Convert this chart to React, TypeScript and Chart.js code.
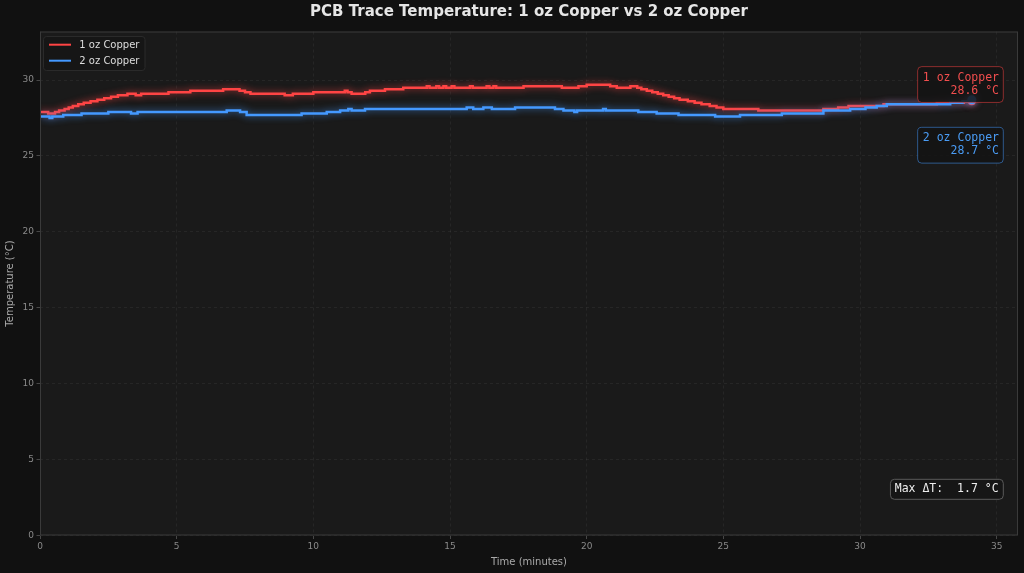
import React, { useEffect, useRef } from "react";
import { Chart, registerables } from "chart.js";

Chart.register(...registerables);

const TITLE = "PCB Trace Temperature: 1 oz Copper vs 2 oz Copper";
const X_LABEL = "Time (minutes)";
const Y_LABEL = "Temperature (°C)";
const SERIES_NAMES = ["1 oz Copper", "2 oz Copper"];
const X_TICKS = [0, 5, 10, 15, 20, 25, 30, 35];
const Y_TICKS = [0, 5, 10, 15, 20, 25, 30];
const X_MAX = 35.78;
const Y_MAX = 33.2;
const MAX_DELTA_T = 1.7;

// 1 oz copper: change points (minutes) and held temperature (°C)
const redTimes = [
  0.0, 0.3, 0.55, 0.7, 0.9, 1.05, 1.2, 1.4, 1.6, 1.85, 2.1, 2.35, 2.6, 2.85, 3.2, 3.5, 3.7,
  4.7, 5.5, 6.7, 7.3, 7.5, 7.7, 8.95, 9.25, 10.0, 11.15, 11.25, 11.4, 11.9, 12.07, 12.62,
  13.29, 14.15, 14.25, 14.5, 14.6, 14.76, 14.86, 15.06, 15.16, 15.73, 15.83, 16.34, 16.44,
  16.59, 16.69, 17.69, 19.09, 19.7, 20.0, 20.86, 21.1, 21.6, 21.85, 22.0, 22.2, 22.4, 22.6,
  22.8, 23.0, 23.2, 23.4, 23.7, 23.95, 24.2, 24.5, 24.75, 25.0, 26.28, 28.66, 29.2, 29.58,
  30.86, 32.81, 33.8, 34.09,
];
const redTemps = [
  27.9, 27.8, 27.9, 28.0, 28.1, 28.2, 28.3, 28.4, 28.5, 28.6, 28.7, 28.8, 28.9, 29.0, 29.1, 29.0, 29.1,
  29.2, 29.3, 29.4, 29.3, 29.2, 29.1, 29.0, 29.1, 29.2, 29.3, 29.2, 29.1, 29.2, 29.3, 29.4,
  29.5, 29.6, 29.5, 29.6, 29.5, 29.6, 29.5, 29.6, 29.5, 29.6, 29.5, 29.6, 29.5,
  29.6, 29.5, 29.6, 29.5, 29.6, 29.7, 29.6, 29.5, 29.6, 29.5, 29.4, 29.3, 29.2, 29.1,
  29.0, 28.9, 28.8, 28.7, 28.6, 28.5, 28.4, 28.3, 28.2, 28.1, 28.0, 28.1, 28.2, 28.3,
  28.4, 28.5, 28.6, 28.6,
];

// 2 oz copper: change points (minutes) and held temperature (°C)
const blueTimes = [
  0.0, 0.35, 0.45, 0.85, 1.52, 2.5, 3.33, 3.57, 6.83, 7.32, 7.56, 9.57, 10.49, 10.98, 11.28,
  11.4, 11.89, 15.61, 15.85, 16.22, 16.53, 17.38, 18.84, 19.15, 19.55, 19.65, 20.6, 20.7,
  21.89, 22.56, 23.36, 24.7, 25.61, 27.14, 28.66, 29.64, 30.2, 30.61, 30.98, 33.3, 33.75,
  34.0, 34.09,
];
const blueTemps = [
  27.6, 27.5, 27.6, 27.7, 27.8, 27.9, 27.8, 27.9, 28.0, 27.9, 27.7, 27.8, 27.9, 28.0, 28.1,
  28.0, 28.1, 28.2, 28.1, 28.2, 28.1, 28.2, 28.1, 28.0, 27.9, 28.0, 28.1, 28.0,
  27.9, 27.8, 27.7, 27.6, 27.7, 27.8, 28.0, 28.1, 28.2, 28.3, 28.4, 28.5, 28.6,
  28.7, 28.7,
];

const RED = "#ff4444";
const BLUE = "#4499ff";
const MONO = "'DejaVu Sans Mono', monospace";
const SANS = "'DejaVu Sans', sans-serif";

function roundRect(ctx: CanvasRenderingContext2D, x: number, y: number, w: number, h: number, r: number) {
  ctx.beginPath();
  ctx.moveTo(x + r, y);
  ctx.lineTo(x + w - r, y);
  ctx.arcTo(x + w, y, x + w, y + r, r);
  ctx.lineTo(x + w, y + h - r);
  ctx.arcTo(x + w, y + h, x + w - r, y + h, r);
  ctx.lineTo(x + r, y + h);
  ctx.arcTo(x, y + h, x, y + h - r, r);
  ctx.lineTo(x, y + r);
  ctx.arcTo(x, y, x + r, y, r);
  ctx.closePath();
}

function ChartView() {
  const ref = useRef<HTMLCanvasElement>(null);

  useEffect(() => {
    const canvas = ref.current;
    if (!canvas) return;
    Chart.defaults.font.family = SANS;

    const toPts = (ts: number[], vs: number[]) => ts.map((t, i) => ({ x: t, y: vs[i] }));
    const redPts = toPts(redTimes, redTemps);
    const bluePts = toPts(blueTimes, blueTemps);

    const deco = {
      id: "deco",
      beforeDraw(chart: any) {
        const { ctx, chartArea: a, width, height } = chart;
        ctx.save();
        ctx.fillStyle = "#111111";
        ctx.fillRect(0, 0, width, height);
        ctx.fillStyle = "#1a1a1a";
        ctx.fillRect(a.left, a.top, a.right - a.left, a.bottom - a.top);
        ctx.restore();
      },
      beforeDatasetDraw(chart: any, args: any) {
        const ds = chart.data.datasets[args.index];
        const ctx = chart.ctx;
        ctx.save();
        ctx.shadowColor = ds.glowColor;
        ctx.shadowBlur = 7;
      },
      afterDatasetDraw(chart: any) {
        chart.ctx.restore();
      },
      afterDraw(chart: any) {
        const { ctx, chartArea: a } = chart;
        const xs = chart.scales.x;
        const ys = chart.scales.y;
        ctx.save();
        // title, centred over the plot area
        ctx.font = `bold 15px ${SANS}`;
        ctx.fillStyle = "#e6e6e6";
        ctx.textAlign = "center";
        ctx.textBaseline = "alphabetic";
        ctx.fillText(TITLE, (a.left + a.right) / 2, 16.3);

        // frame
        ctx.strokeStyle = "#3a3a3a";
        ctx.lineWidth = 1;
        ctx.strokeRect(a.left + 0.5, a.top + 0.5, a.right - a.left - 1, a.bottom - a.top - 1);

        // legend
        roundRect(ctx, a.left + 3.5, a.top + 5, 101.5, 34, 3);
        ctx.fillStyle = "rgba(22,22,22,0.85)";
        ctx.fill();
        ctx.strokeStyle = "#2a2a2a";
        ctx.stroke();
        const legendColors = [RED, BLUE];
        ctx.font = `10px ${SANS}`;
        ctx.textBaseline = "middle";
        ctx.textAlign = "left";
        SERIES_NAMES.forEach((name, i) => {
          const ly = a.top + 13.2 + i * 16;
          ctx.strokeStyle = legendColors[i];
          ctx.lineWidth = 2;
          ctx.beginPath();
          ctx.moveTo(a.left + 9, ly);
          ctx.lineTo(a.left + 31, ly);
          ctx.stroke();
          ctx.fillStyle = "#dddddd";
          ctx.fillText(name, a.left + 39.3, ly + 0.5);
        });

        // end-value annotations
        const lastR = redPts[redPts.length - 1];
        const lastB = bluePts[bluePts.length - 1];
        const px = xs.getPixelForValue(lastR.x);
        const yR = ys.getPixelForValue(lastR.y);
        const yB = ys.getPixelForValue(lastB.y);
        ctx.font = `11.5px ${MONO}`;
        const boxes = [
          { name: SERIES_NAMES[0], val: lastR.y, top: yR - 34.7, stroke: "rgba(255,68,68,0.5)", color: "#f24e4e" },
          { name: SERIES_NAMES[1], val: lastB.y, top: yB + 27.5, stroke: "rgba(68,153,255,0.5)", color: "#4a9cf5" },
        ];
        boxes.forEach((b) => {
          const right = px + 31.5;
          const l1 = b.name;
          const l2 = `${b.val.toFixed(1)} °C`;
          const w = Math.max(ctx.measureText(l1).width, ctx.measureText(l2).width) + 9.5;
          roundRect(ctx, right - w, b.top, w, 35.8, 4);
          ctx.fillStyle = "rgba(20,20,20,0.85)";
          ctx.fill();
          ctx.strokeStyle = b.stroke;
          ctx.lineWidth = 1;
          ctx.stroke();
          ctx.fillStyle = b.color;
          ctx.textAlign = "right";
          ctx.textBaseline = "middle";
          ctx.fillText(l1, right - 4.3, b.top + 11);
          ctx.fillText(l2, right - 4.3, b.top + 24);
        });

        // max delta box
        const dt = `Max ΔT:  ${MAX_DELTA_T.toFixed(1)} °C`;
        ctx.font = `11.5px ${MONO}`;
        const tw = ctx.measureText(dt).width;
        const bw = tw + 9;
        const bRight = a.right - 14.7;
        const bBottom = a.bottom - 36.2;
        roundRect(ctx, bRight - bw, bBottom - 20, bw, 20, 4);
        ctx.fillStyle = "rgba(22,22,22,0.9)";
        ctx.fill();
        ctx.strokeStyle = "#5a5a5a";
        ctx.stroke();
        ctx.fillStyle = "#eeeeee";
        ctx.textAlign = "left";
        ctx.textBaseline = "middle";
        ctx.fillText(dt, bRight - bw + 4.3, bBottom - 10);
        ctx.restore();
      },
    };

    const lastIdxR = redPts.length - 1;
    const lastIdxB = bluePts.length - 1;

    const chart = new Chart(canvas, {
      type: "line",
      data: {
        datasets: [
          {
            label: SERIES_NAMES[0],
            data: redPts,
            borderColor: RED,
            backgroundColor: RED,
            borderWidth: 2.5,
            stepped: true,
            fill: false,
            pointRadius: (c: any) => (c.dataIndex === lastIdxR ? 4 : 0),
            pointBorderWidth: 0,
            pointBackgroundColor: RED,
            order: 2,
            glowColor: "rgba(255,68,68,0.75)",
          } as any,
          {
            label: SERIES_NAMES[1],
            data: bluePts,
            borderColor: BLUE,
            backgroundColor: BLUE,
            borderWidth: 2.5,
            stepped: true,
            fill: false,
            pointRadius: (c: any) => (c.dataIndex === lastIdxB ? 4.5 : 0),
            pointBorderWidth: 0,
            pointBackgroundColor: BLUE,
            order: 1,
            glowColor: "rgba(68,153,255,0.75)",
          } as any,
        ],
      },
      options: {
        responsive: false,
        animation: false,
        events: [],
        layout: { padding: { left: 0, right: 6, top: 31.5, bottom: 0 } },
        plugins: {
          legend: { display: false },
          tooltip: { enabled: false },
          title: { display: false },
        },
        scales: {
          x: {
            type: "linear",
            min: 0,
            max: X_MAX,
            afterBuildTicks: (s: any) => {
              s.ticks = X_TICKS.map((v) => ({ value: v }));
            },
            afterFit: (s: any) => {
              s.height = 37.5;
            },
            ticks: {
              color: "#8a8a8a",
              font: { size: 9, family: SANS },
              padding: 2,
              maxRotation: 0,
              autoSkip: false,
              callback: (v: any) => String(v),
            },
            grid: {
              color: "rgba(255,255,255,0.07)",
              lineWidth: 0.8,
              tickColor: "#555555",
              tickLength: 3.5,
            },
            border: { display: false, dash: [3, 3] },
            title: {
              display: true,
              text: X_LABEL,
              color: "#aaaaaa",
              font: { size: 10, family: SANS },
              padding: { top: 0, bottom: 5 },
            },
          },
          y: {
            type: "linear",
            min: 0,
            max: Y_MAX,
            afterBuildTicks: (s: any) => {
              s.ticks = Y_TICKS.map((v) => ({ value: v }));
            },
            afterFit: (s: any) => {
              s.width = 40;
            },
            ticks: {
              color: "#8a8a8a",
              font: { size: 9, family: SANS },
              padding: 2.5,
              callback: (v: any) => String(v),
            },
            grid: {
              color: "rgba(255,255,255,0.07)",
              lineWidth: 0.8,
              tickColor: "#555555",
              tickLength: 3.5,
            },
            border: { display: false, dash: [3, 3] },
            title: {
              display: true,
              text: Y_LABEL,
              color: "#aaaaaa",
              font: { size: 10, family: SANS },
              padding: { top: 4, bottom: 0 },
            },
          },
        },
      } as any,
      plugins: [deco],
    });

    return () => {
      chart.destroy();
    };
  }, []);

  return (
    <canvas
      ref={ref}
      width={1024}
      height={573}
      style={{ display: "block", width: 1024, height: 573 }}
    />
  );
}

export default function App() {
  return (
    <div
      style={{
        position: "fixed",
        left: 0,
        top: 0,
        width: 1024,
        height: 573,
        background: "#111111",
        overflow: "hidden",
      }}
    >
      <ChartView />
    </div>
  );
}
